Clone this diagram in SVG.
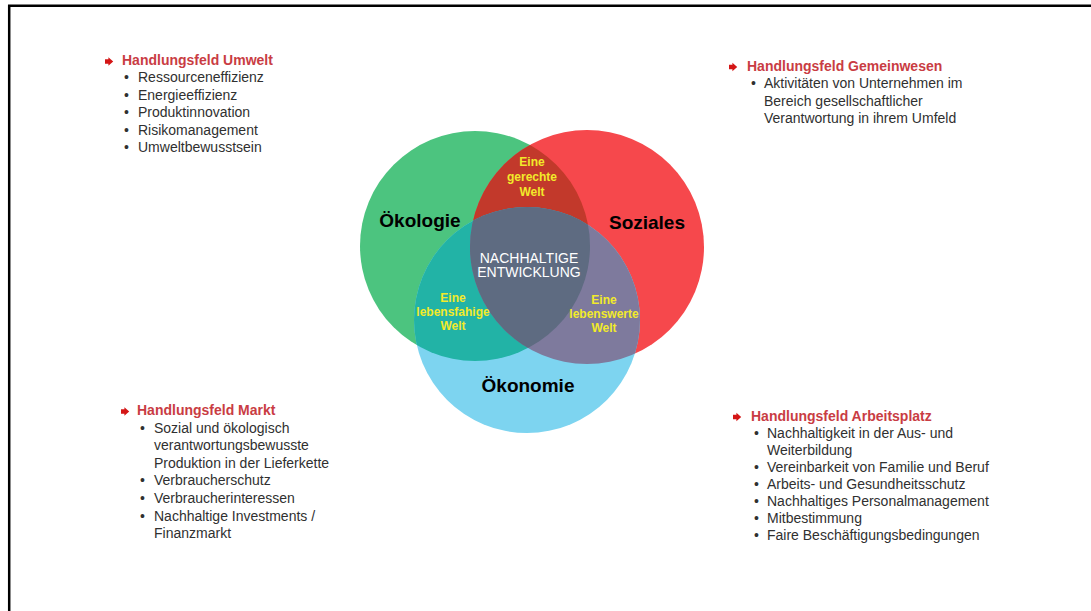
<svg xmlns="http://www.w3.org/2000/svg" width="1091" height="611" viewBox="0 0 1091 611">
  <style>
    .frame { fill: none; stroke: #000; stroke-width: 2.5; }
    .head { font-family: "Liberation Sans", Arial, sans-serif; font-size: 14px; font-weight: bold; fill: #c93c43; }
    .item { font-family: "Liberation Sans", Arial, sans-serif; font-size: 14px; fill: #303030; }
    .pillar { font-family: "Liberation Sans", Arial, sans-serif; font-size: 19px; font-weight: bold; fill: #000; text-anchor: middle; }
    .core { font-family: "Liberation Sans", Arial, sans-serif; font-size: 14px; fill: #fff; text-anchor: middle; }
    .world { font-family: "Liberation Sans", Arial, sans-serif; font-size: 12px; font-weight: bold; fill: #f2ea2a; text-anchor: middle; }
    .arrow { fill: #d41616; }
  </style>
  <defs>
    <path id="arrowhead" class="arrow" d="M0,-2.3 H3.4 V-4.2 L8.2,0 L3.4,4.2 V2.3 H0 Z"/>
    <clipPath id="clipEco"><circle cx="475" cy="246" r="115"/></clipPath>
    <clipPath id="clipSoc"><circle cx="587" cy="247" r="117"/></clipPath>
  </defs>

  <rect width="1091" height="611" fill="#fff"/>
  <!-- slide frame: top and left edges only -->
  <path class="frame" d="M9.2,611 V5.8 H1091"/>

  <!-- three-pillar Venn diagram -->
  <g id="venn">
    <g id="oekologie">
      <circle cx="475" cy="246" r="115" fill="#4cc47f"/>
    </g>
    <g id="soziales">
      <circle cx="587" cy="247" r="117" fill="#f6484c"/>
    </g>
    <g id="oekonomie">
      <circle cx="527" cy="320" r="113" fill="#7dd4f0"/>
    </g>
    <!-- pairwise overlaps -->
    <circle cx="587" cy="247" r="117" fill="#c2392b" clip-path="url(#clipEco)"/>
    <circle cx="527" cy="320" r="113" fill="#22b3a6" clip-path="url(#clipEco)"/>
    <circle cx="527" cy="320" r="113" fill="#7e7a9d" clip-path="url(#clipSoc)"/>
    <!-- triple overlap -->
    <g clip-path="url(#clipEco)">
      <circle cx="527" cy="320" r="113" fill="#5e6b81" clip-path="url(#clipSoc)"/>
    </g>

    <text class="pillar" x="420" y="227">Ökologie</text>
    <text class="pillar" x="647" y="229">Soziales</text>
    <text class="pillar" x="528" y="392">Ökonomie</text>

    <g id="nachhaltige-entwicklung">
      <text class="core" x="529" y="263">NACHHALTIGE</text>
      <text class="core" x="529" y="277">ENTWICKLUNG</text>
    </g>
    <g id="gerechte-welt">
      <text class="world" x="532" y="166">Eine</text>
      <text class="world" x="532" y="181">gerechte</text>
      <text class="world" x="532" y="196">Welt</text>
    </g>
    <g id="lebensfaehige-welt">
      <text class="world" x="453" y="302">Eine</text>
      <text class="world" x="453" y="316">lebensfahige</text>
      <text class="world" x="453" y="330">Welt</text>
    </g>
    <g id="lebenswerte-welt">
      <text class="world" x="604" y="304">Eine</text>
      <text class="world" x="604" y="318">lebenswerte</text>
      <text class="world" x="604" y="332">Welt</text>
    </g>
  </g>

  <!-- action field: environment -->
  <g id="feld-umwelt">
    <use href="#arrowhead" x="105" y="61.5"/>
    <text class="head" x="122" y="65">Handlungsfeld Umwelt</text>
    <g class="item">
      <text x="124" y="82">•</text><text x="138" y="82">Ressourceneffizienz</text>
      <text x="124" y="99.6">•</text><text x="138" y="99.6">Energieeffizienz</text>
      <text x="124" y="117.2">•</text><text x="138" y="117.2">Produktinnovation</text>
      <text x="124" y="134.8">•</text><text x="138" y="134.8">Risikomanagement</text>
      <text x="124" y="152.4">•</text><text x="138" y="152.4">Umweltbewusstsein</text>
    </g>
  </g>

  <!-- action field: community -->
  <g id="feld-gemeinwesen">
    <use href="#arrowhead" x="729" y="67"/>
    <text class="head" x="747" y="71">Handlungsfeld Gemeinwesen</text>
    <g class="item">
      <text x="751" y="88">•</text><text x="764" y="88">Aktivitäten von Unternehmen im</text>
      <text x="764" y="105.7">Bereich gesellschaftlicher</text>
      <text x="764" y="123.4">Verantwortung in ihrem Umfeld</text>
    </g>
  </g>

  <!-- action field: market -->
  <g id="feld-markt">
    <use href="#arrowhead" x="121" y="411.5"/>
    <text class="head" x="137" y="415">Handlungsfeld Markt</text>
    <g class="item">
      <text x="140" y="432.5">•</text><text x="154" y="432.5">Sozial und ökologisch</text>
      <text x="154" y="450.1">verantwortungsbewusste</text>
      <text x="154" y="467.7">Produktion in der Lieferkette</text>
      <text x="140" y="485.3">•</text><text x="154" y="485.3">Verbraucherschutz</text>
      <text x="140" y="502.9">•</text><text x="154" y="502.9">Verbraucherinteressen</text>
      <text x="140" y="520.5">•</text><text x="154" y="520.5">Nachhaltige Investments /</text>
      <text x="154" y="538.1">Finanzmarkt</text>
    </g>
  </g>

  <!-- action field: workplace -->
  <g id="feld-arbeitsplatz">
    <use href="#arrowhead" x="733" y="417"/>
    <text class="head" x="751" y="421">Handlungsfeld Arbeitsplatz</text>
    <g class="item">
      <text x="754" y="438">•</text><text x="767" y="438">Nachhaltigkeit in der Aus- und</text>
      <text x="767" y="455">Weiterbildung</text>
      <text x="754" y="472">•</text><text x="767" y="472">Vereinbarkeit von Familie und Beruf</text>
      <text x="754" y="489">•</text><text x="767" y="489">Arbeits- und Gesundheitsschutz</text>
      <text x="754" y="506">•</text><text x="767" y="506">Nachhaltiges Personalmanagement</text>
      <text x="754" y="523">•</text><text x="767" y="523">Mitbestimmung</text>
      <text x="754" y="540">•</text><text x="767" y="540">Faire Beschäftigungsbedingungen</text>
    </g>
  </g>
</svg>
